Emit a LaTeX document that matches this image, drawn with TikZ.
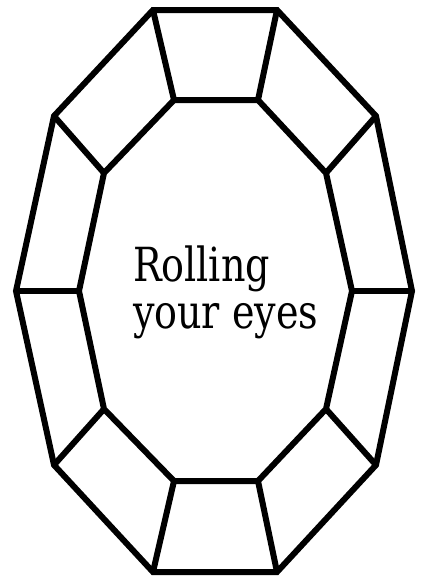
\documentclass[tikz,border=0pt]{standalone}
\usepackage{fontspec}
\setmainfont{DejaVu Serif}
\begin{document}
\begin{tikzpicture}[x=1pt,y=-1pt,line width=6pt,line join=miter,
  edge/.style={draw=black},
  label/.style={anchor=base west,inner sep=0pt,font=\fontsize{47}{52}\selectfont}]
\useasboundingbox (0,0) rectangle (423,579);
% outer vertices
\coordinate (o1) at (153,10);
\coordinate (o2) at (277,10);
\coordinate (o3) at (376,116);
\coordinate (o4) at (412,291);
\coordinate (o5) at (376,465);
\coordinate (o6) at (277,572);
\coordinate (o7) at (153,572);
\coordinate (o8) at (54,465);
\coordinate (o9) at (16,291);
\coordinate (o10) at (54,116);
% inner vertices
\coordinate (i1) at (174,100);
\coordinate (i2) at (258,100);
\coordinate (i3) at (326,173);
\coordinate (i4) at (352,291);
\coordinate (i5) at (326,409);
\coordinate (i6) at (258,481);
\coordinate (i7) at (174,481);
\coordinate (i8) at (104,409);
\coordinate (i9) at (79,291);
\coordinate (i10) at (104,173);
\draw[edge] (o1)--(o2)--(o3)--(o4)--(o5)--(o6)--(o7)--(o8)--(o9)--(o10)--cycle;
\draw[edge] (i1)--(i2)--(i3)--(i4)--(i5)--(i6)--(i7)--(i8)--(i9)--(i10)--cycle;
\foreach \k in {1,...,10} {\draw[edge] (o\k)--(i\k);}
\node[label] (t1) at (130,281) {\scalebox{0.81}[1]{Rolling}};
\node[label] (t2) at (130,328) {\scalebox{0.81}[1]{your eyes}};
\end{tikzpicture}
\end{document}
